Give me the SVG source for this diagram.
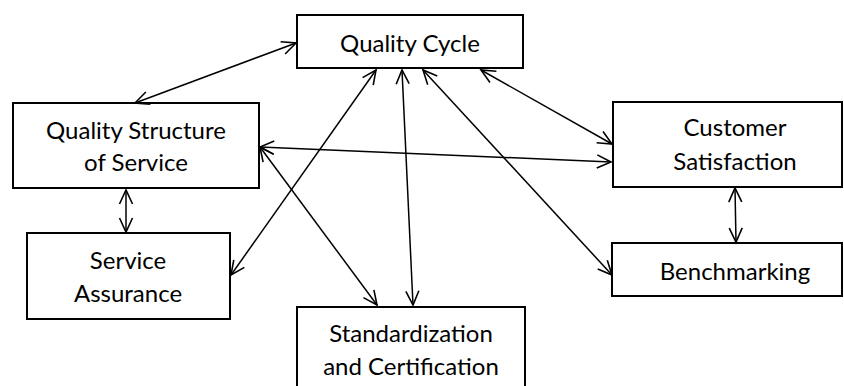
<svg xmlns="http://www.w3.org/2000/svg" width="844" height="386" viewBox="0 0 844 386">
  <style>
    .box { fill: #fff; stroke: #000; stroke-width: 2; }
    .lbl { font-family: Lato, "Open Sans", "Liberation Sans", sans-serif; font-size: 24px; fill: #000; text-anchor: middle; }
    .link { fill: none; stroke: #000; stroke-width: 1.5; marker-start: url(#arr); marker-end: url(#arr); }
  </style>
  <defs>
    <marker id="arr" viewBox="-16 -8 18 16" refX="0" refY="0" markerWidth="18" markerHeight="16" markerUnits="userSpaceOnUse" orient="auto-start-reverse">
      <path d="M-14,-6.5 L0,0 L-14,6.5" fill="none" stroke="#000" stroke-width="1.6"/>
    </marker>
  </defs>
  <rect width="844" height="386" fill="#fff"/>

  <g id="nodes">
    <g id="quality-cycle">
      <rect class="box" x="297" y="15" width="226" height="53"/>
      <text class="lbl" x="410" y="52">Quality Cycle</text>
    </g>
    <g id="quality-structure">
      <rect class="box" x="13" y="103" width="246" height="85"/>
      <text class="lbl" x="136" y="139">Quality Structure</text>
      <text class="lbl" x="136" y="171">of Service</text>
    </g>
    <g id="customer-satisfaction">
      <rect class="box" x="613" y="102" width="229" height="85"/>
      <text class="lbl" x="735" y="136">Customer</text>
      <text class="lbl" x="735" y="170">Satisfaction</text>
    </g>
    <g id="service-assurance">
      <rect class="box" x="27" y="233" width="203" height="86"/>
      <text class="lbl" x="128" y="269">Service</text>
      <text class="lbl" x="128" y="302">Assurance</text>
    </g>
    <g id="standardization">
      <rect class="box" x="297" y="307" width="228" height="85"/>
      <text class="lbl" x="411" y="342">Standardization</text>
      <text class="lbl" x="411" y="375">and Certification</text>
    </g>
    <g id="benchmarking">
      <rect class="box" x="612" y="243" width="230" height="53"/>
      <text class="lbl" x="735" y="280">Benchmarking</text>
    </g>
  </g>

  <g id="connectors">
    <line class="link" x1="135" y1="103" x2="296" y2="43"/>
    <line class="link" x1="231" y1="275" x2="376" y2="70"/>
    <line class="link" x1="413" y1="305" x2="402" y2="70"/>
    <line class="link" x1="612" y1="275" x2="423" y2="70"/>
    <line class="link" x1="612" y1="144" x2="481" y2="70"/>
    <line class="link" x1="260" y1="147" x2="611" y2="162"/>
    <line class="link" x1="260" y1="147" x2="377" y2="305"/>
    <line class="link" x1="126" y1="190" x2="126" y2="232"/>
    <line class="link" x1="735" y1="188" x2="736" y2="242"/>
  </g>
</svg>
